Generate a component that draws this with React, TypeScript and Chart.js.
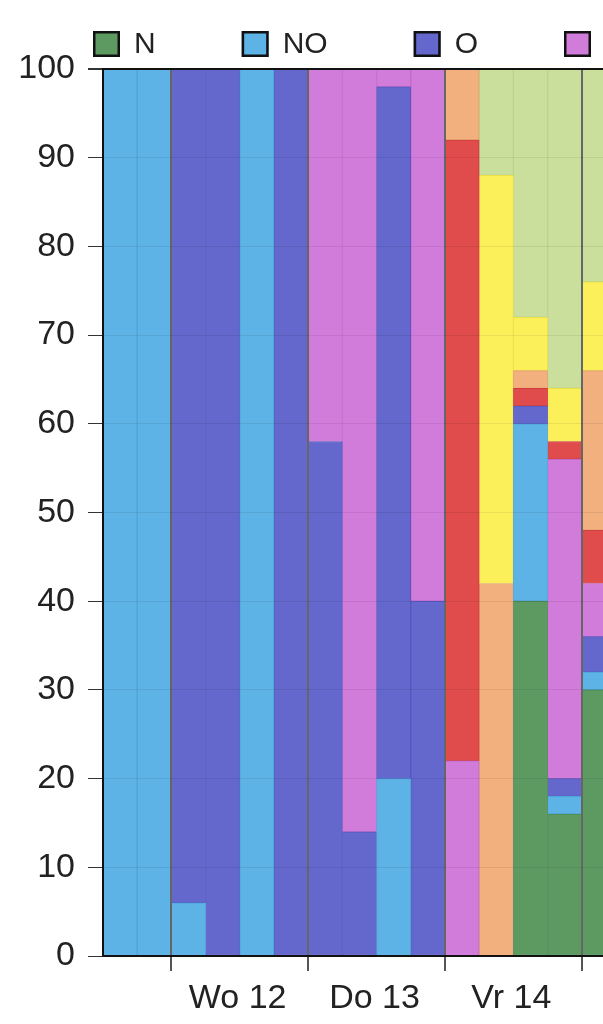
import React, { useEffect, useRef } from 'react';
import { Chart, registerables } from 'chart.js';

Chart.register(...registerables);

// Categories: 6-hourly time slots (day label + hour)
const categories = [
  'Di 11 12:00', 'Di 11 18:00',
  'Wo 12 00:00', 'Wo 12 06:00', 'Wo 12 12:00', 'Wo 12 18:00',
  'Do 13 00:00', 'Do 13 06:00', 'Do 13 12:00', 'Do 13 18:00',
  'Vr 14 00:00', 'Vr 14 06:00', 'Vr 14 12:00', 'Vr 14 18:00',
  'Za 15 00:00',
];

// Wind direction labels (legend)
const directions = ['N', 'NO', 'O', 'ZO', 'Z', 'ZW', 'W', 'NW'];

// Percentage per direction per time slot
const nValues = [0, 0, 0, 0, 0, 0, 0, 0, 0, 0, 0, 0, 40, 16, 30];
const noValues = [100, 100, 6, 0, 100, 0, 0, 0, 20, 0, 0, 0, 20, 2, 2];
const oValues = [0, 0, 94, 100, 0, 100, 58, 14, 78, 40, 0, 0, 2, 2, 4];
const zoValues = [0, 0, 0, 0, 0, 0, 42, 86, 2, 60, 22, 0, 0, 36, 6];
const zValues = [0, 0, 0, 0, 0, 0, 0, 0, 0, 0, 70, 0, 2, 2, 6];
const zwValues = [0, 0, 0, 0, 0, 0, 0, 0, 0, 0, 8, 42, 2, 0, 18];
const wValues = [0, 0, 0, 0, 0, 0, 0, 0, 0, 0, 0, 46, 6, 6, 10];
const nwValues = [0, 0, 0, 0, 0, 0, 0, 0, 0, 0, 0, 12, 28, 36, 24];

const seriesValues = [nValues, noValues, oValues, zoValues, zValues, zwValues, wValues, nwValues];

const fillColors = ['#5c9a62', '#5db2e6', '#6468cc', '#d17bda', '#e04b4b', '#f2b07f', '#fcf05a', '#c9df9b'];
const edgeColors = ['#4f8b55', '#4ea3da', '#5558c0', '#c26bcb', '#cf3e3e', '#e49f6e', '#ece04a', '#b9d08a'];

const FONT = '"Liberation Sans", Arial, Helvetica, sans-serif';

const dayOf = (c: string | undefined) => (c ? c.split(' ').slice(0, 2).join(' ') : '');
const hourOf = (c: string | undefined) => (c ? c.split(' ')[2] : '');
const isDayStart = (i: number) => hourOf(categories[i]) === '00:00';

const topLegend = {
  id: 'topLegend',
  afterDraw(chart: any) {
    const { ctx } = chart;
    const boxW = 27;
    const boxH = 26;
    const top = 23;
    const textGap = 14;
    const itemGap = 86;
    let x = 85;
    ctx.save();
    ctx.font = `30px ${FONT}`;
    ctx.textAlign = 'left';
    ctx.textBaseline = 'middle';
    chart.data.datasets.forEach((ds: any) => {
      ctx.fillStyle = ds.backgroundColor;
      ctx.fillRect(x, top, boxW, boxH);
      ctx.lineWidth = 2.5;
      ctx.strokeStyle = '#111';
      ctx.strokeRect(x + 1.25, top + 1.25, boxW - 2.5, boxH - 2.5);
      ctx.fillStyle = '#222';
      ctx.fillText(ds.label, x + boxW + textGap, top + boxH / 2 + 1);
      x += boxW + textGap + ctx.measureText(ds.label).width + itemGap;
    });
    ctx.restore();
  },
};

export default function App() {
  const ref = useRef<HTMLCanvasElement | null>(null);

  useEffect(() => {
    if (!ref.current) return;
    const chart = new Chart(ref.current, {
      type: 'bar',
      data: {
        labels: categories,
        datasets: directions.map((d, i) => ({
          label: d,
          data: seriesValues[i],
          backgroundColor: fillColors[i],
          borderColor: edgeColors[i],
          borderWidth: 1,
          borderSkipped: false,
          barPercentage: 1,
          categoryPercentage: 1,
        })),
      },
      options: {
        animation: false,
        responsive: false,
        maintainAspectRatio: false,
        layout: { padding: { top: 61, right: 12, left: 0, bottom: 0 } },
        plugins: {
          legend: { display: false },
          tooltip: { enabled: false },
        },
        scales: {
          x: {
            stacked: true,
            offset: true,
            grid: {
              offset: true,
              z: 1,
              color: (c: any) => (isDayStart(c.index) ? '#666' : 'rgba(0,0,0,0)'),
              lineWidth: (c: any) => (isDayStart(c.index) ? 2 : 0),
              tickColor: (c: any) => (isDayStart(c.index) ? '#555' : 'rgba(0,0,0,0)'),
              tickLength: 15,
              drawTicks: true,
            },
            border: { color: '#111', width: 2, z: 2 },
            ticks: {
              autoSkip: false,
              maxRotation: 0,
              minRotation: 0,
              labelOffset: 15,
              padding: 7,
              color: '#222',
              font: { size: 34, family: FONT },
              callback: (_v: any, i: number) =>
                hourOf(categories[i]) === '06:00' ? dayOf(categories[i]) : '',
            },
            afterFit: (s: any) => {
              s.height = 58;
            },
          },
          y: {
            stacked: true,
            min: 0,
            max: 100,
            grid: {
              z: 1,
              color: (c: any) => (c.tick && c.tick.value === 100 ? '#111' : 'rgba(0,0,0,0.07)'),
              lineWidth: (c: any) => (c.tick && c.tick.value === 100 ? 2 : 1),
              tickColor: '#333',
              tickLength: 15,
            },
            border: { color: '#111', width: 2, z: 2 },
            ticks: {
              stepSize: 10,
              padding: 13,
              color: '#222',
              font: { size: 34, family: FONT },
            },
            afterFit: (s: any) => {
              s.width = 95;
            },
          },
        },
      },
      plugins: [topLegend],
    } as any);
    return () => chart.destroy();
  }, []);

  return (
    <div
      style={{
        position: 'fixed',
        left: 0,
        top: 0,
        width: 603,
        height: 1024,
        overflow: 'hidden',
        background: '#fff',
      }}
    >
      <canvas
        ref={ref}
        width={620}
        height={1006}
        style={{ display: 'block', width: 620, height: 1006, marginLeft: 8, marginTop: 8 }}
      />
    </div>
  );
}
